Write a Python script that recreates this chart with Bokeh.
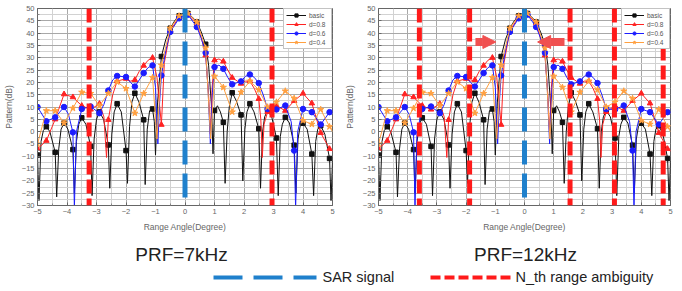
from bokeh.plotting import figure
from bokeh.layouts import column, row
from bokeh.models import (Range1d, Span, Arrow, NormalHead, FixedTicker,
                          Legend, LegendItem)
from bokeh.embed import file_html
from bokeh.resources import INLINE
from bokeh.core.properties import value

# ---------------- data ----------------
MARK_X = [-5.0, -4.7, -4.4, -4.1, -3.8, -3.5, -3.2, -2.9, -2.6, -2.3, -2.0, -1.7,
          -1.4, -1.1, -0.8, -0.5, -0.2, 0.1, 0.4, 0.7, 1.0, 1.3, 1.6, 1.9, 2.2,
          2.5, 2.8, 3.1, 3.4, 3.7, 4.0, 4.3, 4.6, 4.9]

BASIC_MARK = [-9.5, 2, -8.4, 3.5, -7.3, 5.6, -6, 8, -5.4, 11.3, -7.7, 15.6, 4.8,
              9.2, 30.5, 42, 47, 48, 44.5, 35.5, 8.6, 3.8, 15.8, 6.8, 11.3, 1.2,
              8.6, -2.6, 5.8, -5.5, 3.4, -9.1, 2.4, -10.9]
D08_MARK = [-7, -3.7, 5, 15.2, 14, 10.5, 9, 11.3, 4.8, 20.5, 21.5, 21, 26.8, 30,
            2.8, 41, 46.5, 47.5, 44, 31, 29, 28.5, 21.9, 19.5, 20.5, 13.3, 8,
            10.5, 8.5, 12.5, 15.5, 11.5, -0.5, -7]
D06_MARK = [10, 4.2, 5.8, 10, -0.3, 9.2, 10.2, 7.5, 16.7, 22.6, 22.2, 18.3, 23.8,
            26.9, 22.8, 40.5, 46, 47.5, 42.5, 32, 26.2, 25.5, 19.2, 20.4, 23.2,
            19.7, 9.2, 9, 10.6, -7.7, 9.2, 7.9, 2.9, 7.9]
D04_MARK = [-5, 8.5, 8.5, 3.5, 9.5, 16, 15.5, 10.5, 15.5, 20.2, 17.5, 7.5, 15.5,
            22, 27, 42, 47, 48, 44.5, 34, 22.5, 18, 8, 16, 20.5, 17, 10, 12, 16.5,
            13.5, 4.5, 3, 9, 2]

BASIC_LINE_X = [-5.0, -4.95, -4.88, -4.8, -4.7, -4.58, -4.4, -4.35, -4.28, -4.2, -4.1,
                -3.97, -3.8, -3.75, -3.68, -3.6, -3.5, -3.36, -3.2, -3.15, -3.08,
                -3.0, -2.9, -2.76, -2.6, -2.55, -2.48, -2.4, -2.3, -2.16, -2.0,
                -1.95, -1.88, -1.8, -1.7, -1.56, -1.4, -1.35, -1.28, -1.2, -1.1,
                -1.04, -1.0, -0.93, -0.8, -0.65, -0.5, -0.35, -0.2, -0.05, 0.1,
                0.25, 0.4, 0.55, 0.7, 0.8, 0.9, 0.95, 1.0, 1.1, 1.2, 1.3, 1.36,
                1.43, 1.5, 1.6, 1.74, 1.9, 1.96, 2.03, 2.1, 2.2, 2.34, 2.5, 2.56,
                2.63, 2.7, 2.8, 2.94, 3.1, 3.16, 3.23, 3.3, 3.4, 3.54, 3.7, 3.76,
                3.83, 3.9, 4.0, 4.14, 4.3, 4.36, 4.43, 4.5, 4.6, 4.74, 4.9, 4.95, 5.0]
BASIC_LINE_Y = [-9.5, -28, -4, 0.5, 2, 0, -8.4, -26.5, -7, 1, 3.5,
                1, -7.3, -25, -4, 3, 5.6, 3, -6, -26, -3,
                5, 8, 5, -5.4, -23, -1, 8, 11.3, 8, -7.7,
                -21, 2, 12, 15.6, 12, 4.8, -21.5, 1, 8.5, 9.2,
                4, -9.5, 12, 30.5, 37.5, 42, 45, 47, 48.2, 48,
                46.5, 44.5, 40.5, 35.5, 27, 10, -9, 8.6, 10.5, 8, 3.8, -21,
                0, 10, 15.8, 12.5, 6.8, -20, 1, 8, 11.3, 8, 1.2, -23,
                0, 6, 8.6, 6, -2.6, -26, -2, 3, 5.8, 3.5, -5.5, -25,
                -3, 2, 3.4, 1, -9.1, -26, -4, 1, 2.4, -1, -10.9, -28, -12]

D08_LINE_X = [-5.0, -4.7, -4.4, -4.1, -3.8, -3.5, -3.2, -2.9, -2.75, -2.66, -2.6,
              -2.45, -2.3, -2.0, -1.85, -1.7, -1.55, -1.4, -1.25, -1.1, -0.95, -0.8,
              -0.7, -0.5, -0.2, 0.1, 0.4, 0.6, 0.7, 0.8, 0.86, 0.92, 1.0, 1.15, 1.3,
              1.45, 1.6, 1.9, 2.05, 2.2, 2.35, 2.5, 2.57, 2.62, 2.68, 2.8, 3.1, 3.4,
              3.7, 4.0, 4.3, 4.6, 4.9, 5.0]
D08_LINE_Y = [-7, -3.7, 5, 15.2, 14, 10.5, 9, 11.3, 6, -10.5, 4.8,
              15, 20.5, 21.5, 20.5, 21, 24.5, 26.8, 29, 30, 22, 2.8,
              28, 41, 46.5, 47.5, 44, 36, 31, 15, -1, 18, 29, 29.5, 28.5,
              25, 21.9, 19.5, 20.5, 20.5, 17.5, 13.3, 5, -10.5, 3, 8, 10.5, 8.5,
              12.5, 15.5, 11.5, -0.5, -7, -8]

D06_LINE_X = [-5.0, -4.7, -4.4, -4.1, -3.95, -3.8, -3.75, -3.68, -3.5, -3.2, -2.9,
              -2.75, -2.6, -2.45, -2.3, -2.0, -1.85, -1.7, -1.55, -1.4, -1.25, -1.1,
              -1.0, -0.92, -0.86, -0.8, -0.65, -0.5, -0.2, 0.1, 0.4, 0.55, 0.7,
              0.78, 0.86, 0.93, 1.0, 1.15, 1.3, 1.45, 1.6, 1.9, 2.05, 2.2, 2.35,
              2.5, 2.65, 2.8, 3.1, 3.4, 3.6, 3.7, 3.75, 3.82, 4.0, 4.3, 4.6, 4.9, 5.0]
D06_LINE_Y = [10, 4.2, 5.8, 10, 7, -0.3, -31, 0, 9.2, 10.2, 7.5,
              11, 16.7, 21, 22.6, 22.2, 20, 18.3, 21, 23.8, 26, 26.9,
              18, -5, 12, 22.8, 33, 40.5, 46, 47.5, 42.5, 38, 32,
              18, -5, 16, 26.2, 27, 25.5, 22, 19.2, 20.4, 22.5, 23.2, 22,
              19.7, 15, 9.2, 9, 10.6, 4, -7.7, -31, 0, 9.2, 7.9, 2.9, 7.9, 9]

D04_LINE_X = [-5.0, -4.7, -4.4, -4.1, -3.8, -3.5, -3.2, -2.9, -2.6, -2.3, -2.0,
              -1.7, -1.4, -1.1, -0.95, -0.8, -0.5, -0.2, 0.1, 0.4, 0.7, 0.87,
              1.0, 1.3, 1.6, 1.9, 2.2, 2.5, 2.8, 3.1, 3.4, 3.7, 4.0, 4.3, 4.6,
              4.9, 5.0]
D04_LINE_Y = [-5, 8.5, 8.5, 3.5, 9.5, 16, 15.5, 10.5, 15.5, 20.2, 17.5,
              7.5, 15.5, 22, -3, 27, 42, 47, 48, 44.5, 34, -3,
              22.5, 18, 8, 16, 20.5, 17, 10, 12, 16.5, 13.5, 4.5, 3, 9,
              2, 0]

SERIES = ["basic", "d=0.8", "d=0.6", "d=0.4"]
X_TICKS = [-5, -4, -3, -2, -1, 0, 1, 2, 3, 4, 5]
X_MINOR = [-4.5, -3.5, -2.5, -1.5, -0.5, 0.5, 1.5, 2.5, 3.5, 4.5]
Y_TICKS = [-30, -25, -20, -15, -10, -5, 0, 5, 10, 15, 20, 25, 30, 35, 40, 45, 50]
Y_MINOR = [-27.5, -22.5, -17.5, -12.5, -7.5, -2.5, 2.5, 7.5, 12.5, 17.5, 22.5,
           27.5, 32.5, 37.5, 42.5, 47.5]

PANEL_TITLES = ["PRF=7kHz", "PRF=12kHz"]
SAR_SIGNAL = [0.0]
AMBIGUITY_7K = [-3.25, 2.95]
AMBIGUITY_12K = [-3.6, -1.88, 1.56, 3.08, 4.75]
ARROW_X_START = [-1.68, 1.37]
ARROW_X_END = [-0.98, 0.45]
ARROW_Y = [36.4, 36.4]
LEGEND_LABELS = ["SAR signal", "N_th range ambiguity"]

# ---------------- styling ----------------
COLORS = ["#111111", "#ff2222", "#1c1cff", "#ffa040"]
MARKERS = ["square", "triangle", "circle", "star"]
MSIZE = [4.5, 5.5, 5.5, 6.5]
LINES = [(BASIC_LINE_X, BASIC_LINE_Y, BASIC_MARK),
         (D08_LINE_X, D08_LINE_Y, D08_MARK),
         (D06_LINE_X, D06_LINE_Y, D06_MARK),
         (D04_LINE_X, D04_LINE_Y, D04_MARK)]
FONT = "Liberation Sans"
RED = "#ff1a1a"
BLUE = "#1f80cc"
ARROW_RED = "#f05050"


def make_panel(amb, arrows, bl, br):
    p = figure(width=341, height=238, x_range=Range1d(-5, 5), y_range=Range1d(-30, 50),
               output_backend="svg", toolbar_location=None,
               min_border_left=bl, min_border_right=br, min_border_top=8,
               min_border_bottom=33)
    p.outline_line_color = "#666666"
    p.background_fill_color = "white"
    p.border_fill_color = "white"

    p.xaxis.ticker = FixedTicker(ticks=X_TICKS, minor_ticks=X_MINOR)
    p.yaxis.ticker = FixedTicker(ticks=Y_TICKS, minor_ticks=Y_MINOR)
    p.xgrid.ticker = FixedTicker(ticks=X_TICKS, minor_ticks=X_MINOR)
    p.ygrid.ticker = FixedTicker(ticks=Y_TICKS, minor_ticks=Y_MINOR)
    for g in (p.xgrid, p.ygrid):
        g.grid_line_color = "#a8a8a8"
        g.grid_line_width = 1
        g.minor_grid_line_color = "#d2d2d2"
        g.minor_grid_line_width = 1
    for ax in (p.xaxis, p.yaxis):
        ax.axis_line_color = "#666666"
        ax.major_tick_in = 3
        ax.major_tick_out = 0
        ax.minor_tick_in = 2
        ax.minor_tick_out = 0
        ax.major_tick_line_color = "#666666"
        ax.minor_tick_line_color = "#888888"
        ax.major_label_text_font = FONT
        ax.major_label_text_font_size = "7.5px"
        ax.major_label_text_color = "#666666"
        ax.axis_label_text_font = FONT
        ax.axis_label_text_font_size = "8.5px"
        ax.axis_label_text_font_style = "normal"
        ax.axis_label_text_color = "#666666"
        ax.major_label_standoff = 3
        ax.axis_label_standoff = 5
    p.xaxis.axis_label = "Range Angle(Degree)"
    p.yaxis.axis_label = "Pattern(dB)"

    items = []
    for name, col, mk, ms, (lx, ly, my) in zip(SERIES, COLORS, MARKERS, MSIZE, LINES):
        r1 = p.line(lx, ly, line_color=col, line_width=1.0)
        r2 = p.scatter(MARK_X, my, marker=mk, size=ms, fill_color=col, line_color=col)
        items.append(LegendItem(label=name, renderers=[r1, r2]))

    p.add_layout(Span(location=SAR_SIGNAL[0], dimension="height", line_color=BLUE,
                      line_width=5, line_dash="24 9"))
    for loc in amb:
        p.add_layout(Span(location=loc, dimension="height", line_color=RED,
                          line_width=5, line_dash="14 5"))
    for xs, xe, yy in arrows:
        p.add_layout(Arrow(x_start=xs, y_start=yy, x_end=xe, y_end=yy,
                           line_color=ARROW_RED, line_width=8,
                           end=NormalHead(size=13, fill_color=ARROW_RED,
                                          line_color=ARROW_RED, line_width=1)))

    leg = Legend(items=items, location="top_right", level="overlay")
    leg.label_text_font = FONT
    leg.label_text_font_size = "6.5px"
    leg.label_text_color = "#555555"
    leg.label_height = 8
    leg.glyph_height = 8
    leg.glyph_width = 20
    leg.label_standoff = 3
    leg.spacing = 1
    leg.padding = 2
    leg.margin = 0
    leg.border_line_color = "#888888"
    leg.background_fill_alpha = 1.0
    p.add_layout(leg)
    return p


p1 = make_panel(AMBIGUITY_7K, [], 36, 9)
p2 = make_panel(AMBIGUITY_12K, list(zip(ARROW_X_START, ARROW_X_END, ARROW_Y)), 33, 12)

# bottom strip: panel titles + dashed legend (pixel-like coordinates, top = 238)
pb = figure(width=682, height=52, x_range=Range1d(0, 682), y_range=Range1d(290, 238),
            output_backend="svg", toolbar_location=None, x_axis_location=None,
            y_axis_location=None, min_border=0)
pb.xgrid.visible = False
pb.ygrid.visible = False
pb.outline_line_color = None
pb.text(x=[181, 525], y=[254, 254], text=PANEL_TITLES, text_align="center",
        text_baseline="middle", text_font=value(FONT), text_font_size="19px",
        text_color="#222222")
pb.line(x=[213, 316], y=[277, 277], line_color=BLUE, line_width=4, line_dash="29 11")
pb.line(x=[430, 512], y=[277, 277], line_color=RED, line_width=4, line_dash="10 4")
pb.text(x=[322, 515], y=[276.5, 276.5], text=LEGEND_LABELS, text_align="left",
        text_baseline="middle", text_font=value(FONT), text_font_size="14.5px",
        text_color="#222222")

layout = column(row(p1, p2, spacing=0), pb, spacing=0)
open("out.html", "w").write(file_html(layout, INLINE))
